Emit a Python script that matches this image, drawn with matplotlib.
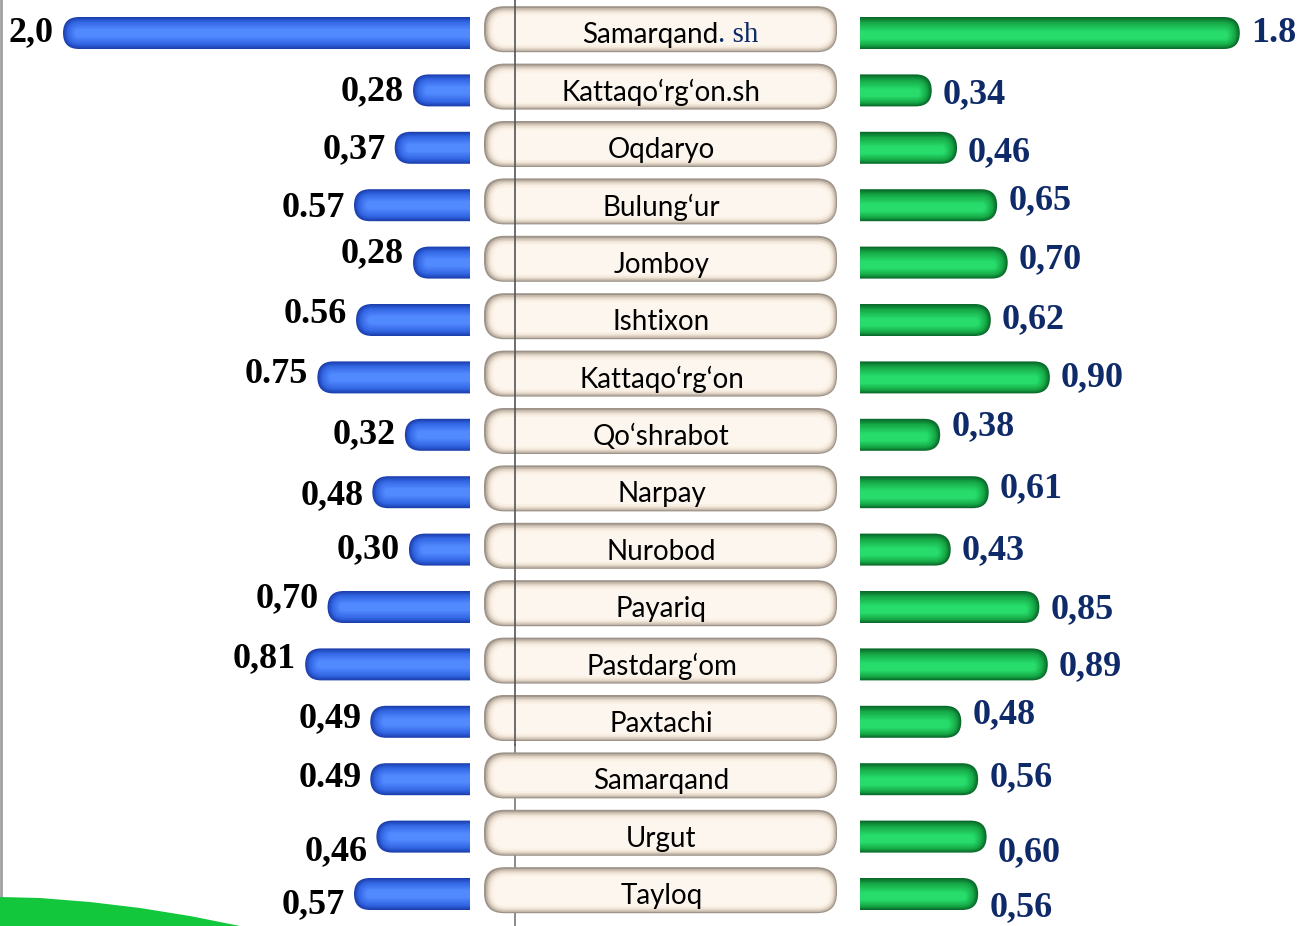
import matplotlib
matplotlib.use("Agg")
import matplotlib.pyplot as plt
from matplotlib.patches import FancyBboxPatch, Polygon
from matplotlib.colors import to_rgb

# ---------------- data ----------------
districts = ["Samarqand. sh", "Kattaqo‘rg‘on.sh", "Oqdaryo", "Bulung‘ur", "Jomboy",
             "Ishtixon", "Kattaqo‘rg‘on", "Qo‘shrabot", "Narpay", "Nurobod",
             "Payariq", "Pastdarg‘om", "Paxtachi", "Samarqand", "Urgut", "Tayloq"]
left_values = [2.0, 0.28, 0.37, 0.57, 0.28, 0.56, 0.75, 0.32, 0.48, 0.30,
               0.70, 0.81, 0.49, 0.49, 0.46, 0.57]
left_labels = ["2,0", "0,28", "0,37", "0.57", "0,28", "0.56", "0.75", "0,32", "0,48",
               "0,30", "0,70", "0,81", "0,49", "0.49", "0,46", "0,57"]
right_values = [1.8, 0.34, 0.46, 0.65, 0.70, 0.62, 0.90, 0.38, 0.61, 0.43,
                0.85, 0.89, 0.48, 0.56, 0.60, 0.56]
right_labels = ["1.8", "0,34", "0,46", "0,65", "0,70", "0,62", "0,90", "0,38", "0,61",
                "0,43", "0,85", "0,89", "0,48", "0,56", "0,60", "0,56"]

# label vertical nudges (pixels, downward)
left_dy = [0, 1, 2, 3, -9, -5, -3, 0, 3, 0, -8, -6, -3, -1, 15, 11]
right_dy = [1, 4, 5, -5, -3, 0, 0, -8, -4, 1, 3, 2, -7, -2, 16, 14]

# ---------------- layout ----------------
W, H = 1309, 926
ROW0, ROW_PX = 33.0, 57.4          # first row centre, row spacing (px)
n = len(districts)
ylim = ((H - ROW0) / ROW_PX, (0 - ROW0) / ROW_PX)

def px2row(py):
    return (py - ROW0) / ROW_PX

L_EDGE, L_PPX = 470, 203.5
R_EDGE, R_PPX = 860, 211.0
BAR_H = 32.0

fig = plt.figure(figsize=(W / 100, H / 100), dpi=100)
fig.patch.set_facecolor("white")

axC = fig.add_axes([0, 0, 1, 1])
axC.set_xlim(0, W)
axC.set_ylim(*ylim)
axC.axis("off")

axL = fig.add_axes([0, 0, L_EDGE / W, 1])
axL.set_xlim(L_EDGE / L_PPX, 0)
axL.set_ylim(*ylim)
axL.axis("off")
axL.patch.set_alpha(0)

axR = fig.add_axes([R_EDGE / W, 0, (W - R_EDGE) / W, 1])
axR.set_xlim(0, (W - R_EDGE) / R_PPX)
axR.set_ylim(*ylim)
axR.axis("off")
axR.patch.set_alpha(0)


def mix(c1, c2, t):
    a, b = to_rgb(c1), to_rgb(c2)
    return tuple(a[k] + (b[k] - a[k]) * t for k in range(3))


def grad_layers(edge, mid, centre, steps=12, min_frac=0.25):
    out = []
    for s in range(steps):
        t = s / (steps - 1)
        frac = 1 - (1 - min_frac) * t
        col = mix(edge, mid, t / 0.35) if t < 0.35 else mix(mid, centre, (t - 0.35) / 0.65)
        out.append((frac, col))
    return out


blue_layers = grad_layers("#1c3fae", "#3265e2", "#5189ff")
green_layers = grad_layers("#0a6a2b", "#16a846", "#27dc6b")


def draw_bar(ax, i, v, ppx, layers, shift=0.0):
    for frac, col in layers:
        hpx = BAR_H * frac
        inset = (BAR_H - hpx) / 2 / ppx
        r = hpx / 2 / ppx
        x0 = -r - 0.05
        w = v - inset - x0
        yc = i + shift * (1 - frac) / ROW_PX
        p = FancyBboxPatch((x0, yc - hpx / 2 / ROW_PX), w, hpx / ROW_PX,
                           boxstyle=f"round,pad=0,rounding_size={r}",
                           mutation_aspect=ppx / ROW_PX, fc=col, ec="none")
        ax.add_patch(p)


num_font = dict(family="Liberation Serif", weight="bold", size=26)

for i in range(n):
    draw_bar(axL, i, left_values[i], L_PPX, blue_layers)
    axL.annotate(left_labels[i], xy=(left_values[i], i), xytext=(-9, -left_dy[i]),
                 textcoords="offset pixels", ha="right", va="center",
                 color="black", annotation_clip=False, **num_font)
    draw_bar(axR, i, right_values[i], R_PPX, green_layers, shift=3)
    axR.annotate(right_labels[i], xy=(right_values[i], i), xytext=(11, -right_dy[i]),
                 textcoords="offset pixels", ha="left", va="center",
                 color="#0f2a68", annotation_clip=False, **num_font)

# ---------------- centre pills ----------------
BX0, BX1, BH = 485, 838, 46
pill_layers = [(0, "#9d9389", 1.0), (1.5, "#c4b8ab", 0.6), (3, "#ded2c4", 0.4),
               (4.5, "#efe4d6", 0.25), (6, "#f9efe3", 0.1), (8, "#fdf6ee", 0.0)]
for i in range(n):
    yc = i - 3 / ROW_PX
    for inset, col, sh in pill_layers:
        hpx = BH - 2 * inset
        r = min(20 - inset * 0.8, hpx / 2)
        x0 = BX0 + inset - sh
        yy = yc - sh * 0.8 / ROW_PX
        p = FancyBboxPatch((x0, yy - hpx / 2 / ROW_PX), BX1 - BX0 - 2 * inset,
                           hpx / ROW_PX, boxstyle=f"round,pad=0,rounding_size={r}",
                           mutation_aspect=1 / ROW_PX, fc=col, ec="none", zorder=2)
        axC.add_patch(p)
    name = districts[i]
    cx = (BX0 + BX1) / 2
    ty = i + 2 / ROW_PX
    if ". " in name:
        a, b = name.split(". ", 1)
        axC.text(cx + 57, ty, a, ha="right", va="center", family="Lato", size=20,
                 color="black", zorder=5)
        axC.text(cx + 57, ty, ". " + b, ha="left", va="center",
                 family="Liberation Serif", size=21, color="#0f2a68", zorder=5)
    else:
        axC.text(cx, ty, name, ha="center", va="center", family="Lato", size=20,
                 color="black", zorder=5)

# vertical guide line (over the upper pills, behind the lower ones)
axC.plot([515, 515], [ylim[1], px2row(745)], color="#555555", lw=1.2, zorder=4)
axC.plot([515, 515], [px2row(745), ylim[0]], color="#777777", lw=1.2, zorder=1)

# left border
axC.plot([1, 1], [ylim[1], ylim[0]], color="#a0a0a0", lw=2, zorder=1)

# green swoosh (decoration, bottom left)
sx = [0, 40, 90, 140, 190, 230, 260, 0]
sy = [897, 898, 902, 908, 916, 924, 930, 930]
axC.add_patch(Polygon(list(zip(sx, [px2row(v) for v in sy])), closed=True,
                      fc="#13c73d", ec="none", zorder=1))

fig.savefig("out.png", dpi=100, facecolor="white")
